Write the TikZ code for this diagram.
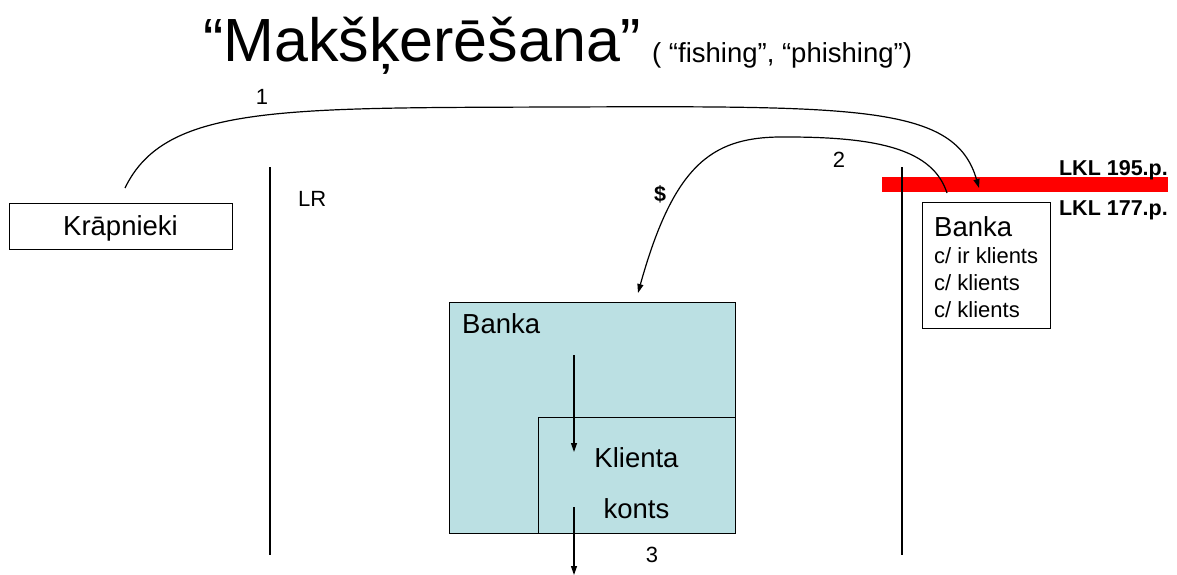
\documentclass[tikz,border=0pt]{standalone}
\usepackage{fontspec}
\setmainfont{Liberation Sans}
\usetikzlibrary{arrows.meta}
\definecolor{bankcyan}{RGB}{187,224,227}

\begin{document}
\begin{tikzpicture}[x=1pt,y=-1pt,
	box/.style={draw,line width=0.9pt,inner sep=0pt},
	txt/.style={inner sep=0pt,font=\fontsize{27.5}{30}\selectfont},
	small/.style={inner sep=0pt,font=\fontsize{22}{26}\selectfont},
	law/.style={inner sep=0pt,font=\fontsize{21.5}{26}\selectfont\bfseries},
	arr/.style={line width=1.2pt,-{Triangle[length=9pt,width=6pt]}}]
	\useasboundingbox (0,0) rectangle (1177,575);
	\node[inner sep=0pt,anchor=base west,font=\fontsize{61}{70}\selectfont] (title) at (203,62) {“Makšķerēšana”};
	\node[txt,anchor=base west] (subtitle) at (652,63) {( “fishing”, “phishing”)};
	\node[box,txt,text depth=0pt,minimum width=223pt,minimum height=46pt] (krapnieki) at (120.5,226) {Krāpnieki};
	\node[small,anchor=base west] (lr) at (298,206) {LR};
	\node[fill=red,inner sep=0pt,anchor=north west,minimum width=286pt,minimum height=15pt] (redbar) at (882,177) {};
	\draw[line width=1.3pt] (270,167) -- (270,555);
	\draw[line width=1.3pt] (902,167) -- (902,555);
	\node[law,anchor=base east] (lkl195) at (1168,175) {LKL 195.p.};
	\node[law,anchor=base east] (lkl177) at (1168,215) {LKL 177.p.};
	\node[box,anchor=north west,minimum width=128pt,minimum height=126pt] (bankaR) at (922,202) {};
	\node[txt,anchor=base west] (bankaRt) at (934,236) {Banka};
	\node[small,anchor=base west] (klients1) at (934,263) {c/ ir klients};
	\node[small,anchor=base west] (klients2) at (934,290) {c/ klients};
	\node[small,anchor=base west] (klients3) at (934,317) {c/ klients};
	\node[box,fill=bankcyan,anchor=north west,minimum width=286pt,minimum height=231pt] (bankaL) at (449,302) {};
	\node[box,fill=bankcyan,anchor=north west,minimum width=197pt,minimum height=116pt] (konts) at (538,417) {};
	\node[txt,anchor=base west] (bankaLt) at (462,333) {Banka};
	\node[txt,anchor=base] (kontst1) at (636.5,467) {Klienta};
	\node[txt,anchor=base] (kontst2) at (636.5,518) {konts};
	\coordinate (c1s) at (125,188);
	\coordinate (c1top) at (560,107);
	\coordinate (c1e) at (979,188);
	\coordinate (c2s) at (947,193);
	\coordinate (c2top) at (787,137);
	\coordinate (c2e) at (638,293);
	\draw[arr] (c1s) .. controls (165,105) and (280,108) .. (c1top) .. controls (860,106) and (955,105) .. (c1e);
	\draw[arr] (c2s) .. controls (933,150) and (880,137) .. (c2top) .. controls (715,136) and (675,160) .. (c2e);
	\coordinate (a1s) at (574,355);
	\coordinate (a1e) at (574,452);
	\coordinate (a2s) at (574,507);
	\coordinate (a2e) at (574,575);
	\draw[arr] (a1s) -- (a1e);
	\draw[arr] (a2s) -- (a2e);
	\node[small,anchor=base] (n1) at (262,105) {1};
	\node[small,anchor=base] (n2) at (839,167) {2};
	\node[small,anchor=base] (n3) at (652,562) {3};
	\node[law,anchor=base] (dollar) at (660,201) {\$};
\end{tikzpicture}
\end{document}
